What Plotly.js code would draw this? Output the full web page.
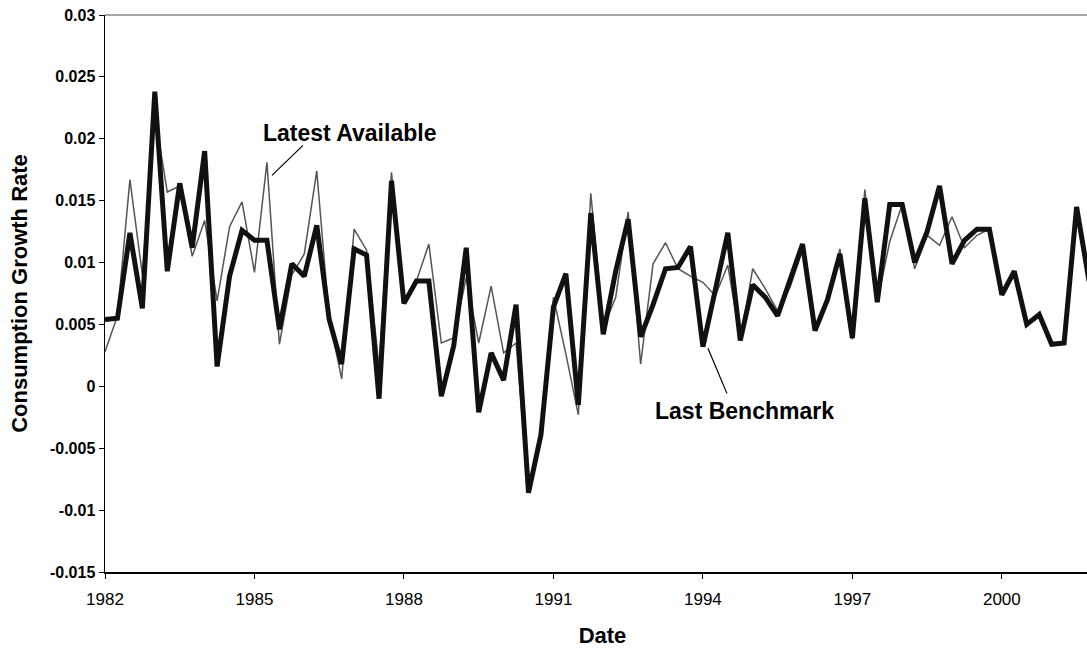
<!DOCTYPE html>
<html>
<head>
<meta charset="utf-8">
<script src="https://cdn.plot.ly/plotly-3.0.1.min.js"></script>
<style>
html,body{margin:0;padding:0;overflow:hidden;background:#fff;}
#chart{width:1100px;height:648px;}
</style>
</head>
<body>
<div id="chart"></div>
<script>
// Quarterly dates 1982Q1 .. 2001Q4 (as decimal years)
const quarters = [
  1982.00,1982.25,1982.50,1982.75,1983.00,1983.25,1983.50,1983.75,
  1984.00,1984.25,1984.50,1984.75,1985.00,1985.25,1985.50,1985.75,
  1986.00,1986.25,1986.50,1986.75,1987.00,1987.25,1987.50,1987.75,
  1988.00,1988.25,1988.50,1988.75,1989.00,1989.25,1989.50,1989.75,
  1990.00,1990.25,1990.50,1990.75,1991.00,1991.25,1991.50,1991.75,
  1992.00,1992.25,1992.50,1992.75,1993.00,1993.25,1993.50,1993.75,
  1994.00,1994.25,1994.50,1994.75,1995.00,1995.25,1995.50,1995.75,
  1996.00,1996.25,1996.50,1996.75,1997.00,1997.25,1997.50,1997.75,
  1998.00,1998.25,1998.50,1998.75,1999.00,1999.25,1999.50,1999.75,
  2000.00,2000.25,2000.50,2000.75,2001.00,2001.25,2001.50,2001.75
];

const lastBenchmark = [
  0.0054,0.0055,0.0124,0.0063,0.0238,0.0093,0.0164,0.0112,
  0.0190,0.0016,0.0089,0.0126,0.0118,0.0118,0.0046,0.0099,
  0.0089,0.0130,0.0054,0.0018,0.0111,0.0106,-0.0010,0.0166,
  0.0067,0.0085,0.0085,-0.0008,0.0033,0.0112,-0.0021,0.0027,
  0.0005,0.0066,-0.0086,-0.0039,0.0064,0.0091,-0.0015,0.0140,
  0.0042,0.0093,0.0135,0.0040,0.0066,0.0095,0.0096,0.0113,
  0.0032,0.0077,0.0124,0.0037,0.0082,0.0072,0.0057,0.0086,
  0.0115,0.0045,0.0070,0.0107,0.0039,0.0152,0.0068,0.0147,
  0.0147,0.0100,0.0125,0.0162,0.0099,0.0118,0.0127,0.0127,
  0.0074,0.0093,0.0050,0.0058,0.0034,0.0035,0.0145,0.0085
];

const latestAvailable = [
  0.0028,0.0057,0.0167,0.0090,0.0220,0.0157,0.0162,0.0105,
  0.0134,0.0069,0.0129,0.0149,0.0092,0.0181,0.0034,0.0090,
  0.0107,0.0174,0.0055,0.0006,0.0127,0.0110,0.0016,0.0173,
  0.0068,0.0085,0.0115,0.0035,0.0039,0.0088,0.0035,0.0081,
  0.0027,0.0035,-0.0086,-0.0039,0.0072,0.0026,-0.0023,0.0156,
  0.0047,0.0072,0.0141,0.0018,0.0099,0.0116,0.0095,0.0089,
  0.0084,0.0073,0.0098,0.0037,0.0095,0.0079,0.0061,0.0080,
  0.0110,0.0045,0.0070,0.0111,0.0038,0.0159,0.0068,0.0117,
  0.0147,0.0095,0.0122,0.0114,0.0137,0.0112,0.0122,0.0127,
  0.0074,0.0093,0.0050,0.0058,0.0034,0.0035,0.0145,0.0085
];

const xTickVals = [1982,1985,1988,1991,1994,1997,2000];
const xTickText = ["1982","1985","1988","1991","1994","1997","2000"];
const yTickVals = [-0.015,-0.01,-0.005,0,0.005,0.01,0.015,0.02,0.025,0.03];
const yTickText = ["-0.015","-0.01","-0.005","0","0.005","0.01","0.015","0.02","0.025","0.03"];

const FONT = "Liberation Sans, Arial, Helvetica, sans-serif";

const traces = [
  {x: quarters, y: latestAvailable, type: 'scatter', mode: 'lines',
   name: 'Latest Available', line: {color: '#555555', width: 1.5}},
  {x: quarters, y: lastBenchmark, type: 'scatter', mode: 'lines',
   name: 'Last Benchmark', line: {color: '#111111', width: 5}}
];

const layout = {
  width: 1100, height: 648,
  margin: {l: 105, r: 0, t: 15, b: 76},
  paper_bgcolor: '#ffffff', plot_bgcolor: '#ffffff',
  showlegend: false,
  font: {family: FONT, color: '#000'},
  xaxis: {
    range: [1982, 2001.97],
    tickvals: xTickVals, ticktext: xTickText,
    ticks: 'outside', ticklen: 5, tickcolor: '#000', tickwidth: 1,
    ticklabelstandoff: 6,
    showline: true, linecolor: '#000', linewidth: 1.5,
    showgrid: false, zeroline: false,
    tickfont: {family: FONT, size: 17, color: '#000'},
    title: {text: '<b>Date</b>', font: {family: FONT, size: 22, color: '#000'}, standoff: 20}
  },
  yaxis: {
    range: [-0.015, 0.03],
    tickvals: yTickVals, ticktext: yTickText,
    ticks: 'outside', ticklen: 5, tickcolor: '#000', tickwidth: 1,
    showline: true, linecolor: '#000', linewidth: 1.5,
    showgrid: false, zeroline: false,
    tickfont: {family: FONT, size: 16, color: '#000', weight: 'bold'},
    title: {text: '<b>Consumption Growth Rate</b>', font: {family: FONT, size: 22, color: '#000'}, standoff: 16}
  },
  shapes: [
    {type: 'line', xref: 'paper', yref: 'paper', x0: 0, x1: 1, y0: 1, y1: 1,
     line: {color: '#888888', width: 1.5}},
    {type: 'line', xref: 'x', yref: 'y', x0: 1985.351, y0: 0.01704, x1: 1985.973, y1: 0.01947,
     line: {color: '#000', width: 1.2}},
    {type: 'line', xref: 'x', yref: 'y', x0: 1994.101, y0: 0.00307, x1: 1994.482, y1: -0.00057,
     line: {color: '#000', width: 1.2}}
  ],
  annotations: [
    {x: 1986.917, y: 0.02044, xref: 'x', yref: 'y', text: '<b>Latest Available</b>',
     showarrow: false, font: {family: FONT, size: 23, color: '#000'}},
    {x: 1994.844, y: -0.00202, xref: 'x', yref: 'y', text: '<b>Last Benchmark</b>',
     showarrow: false, font: {family: FONT, size: 23, color: '#000'}}
  ]
};

Plotly.newPlot('chart', traces, layout, {displayModeBar: false, staticPlot: true});
</script>
</body>
</html>
